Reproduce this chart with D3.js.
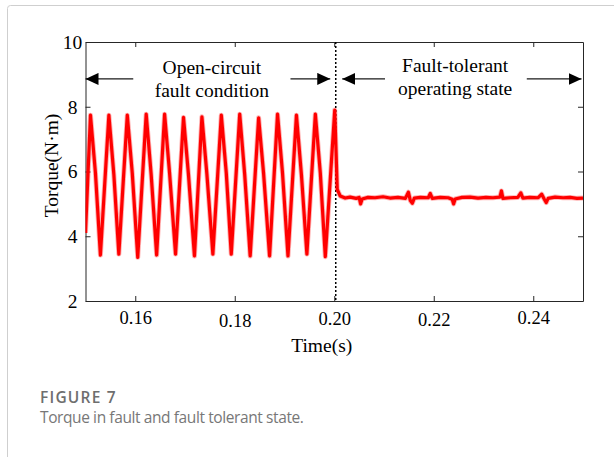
<!DOCTYPE html>
<html>
<head>
<meta charset="utf-8">
<script src="https://cdn.jsdelivr.net/npm/d3@7"></script>
<style>
	body { margin: 0; background: #fff; }
	svg { display: block; }
</style>
</head>
<body>
<div id="chart-area"></div>
<script>
// torque trace: fault period (peak / shoulder / trough per cycle)
// followed by the fault-tolerant period
const TIME = [
	0.1500, 0.1510, 0.1520, 0.1530, 0.1547, 0.1557, 0.1567, 0.1584, 0.1594, 0.1605,
	0.1622, 0.1632, 0.1643, 0.1659, 0.1669, 0.1681, 0.1697, 0.1707, 0.1719, 0.1734,
	0.1744, 0.1756, 0.1773, 0.1783, 0.1793, 0.1810, 0.1820, 0.1831, 0.1848, 0.1858,
	0.1870, 0.1886, 0.1896, 0.1907, 0.1924, 0.1934, 0.1945, 0.1962, 0.1972, 0.1982,
	0.2001, 0.2006, 0.2012,
	0.2022, 0.2032, 0.2044, 0.2050, 0.2053, 0.2056, 0.2068, 0.2082, 0.2098, 0.2112,
	0.2128, 0.2143, 0.2149, 0.2153, 0.2157, 0.2161, 0.2173, 0.2189, 0.2193, 0.2197,
	0.2213, 0.2229, 0.2237, 0.2240, 0.2243, 0.2257, 0.2273, 0.2289, 0.2305, 0.2319,
	0.2333, 0.2336, 0.2339, 0.2353, 0.2369, 0.2375, 0.2379, 0.2393, 0.2410, 0.2417,
	0.2422, 0.2426, 0.2430, 0.2444, 0.2460, 0.2474, 0.2488, 0.2500
]
const TORQUE = [
	4.10, 7.74, 5.95, 3.42, 7.74, 5.90, 3.45, 7.74, 5.95, 3.35,
	7.77, 5.90, 3.42, 7.77, 5.95, 3.45, 7.67, 5.90, 3.39, 7.69,
	5.92, 3.45, 7.74, 5.95, 3.45, 7.77, 5.90, 3.39, 7.66, 5.93,
	3.39, 7.77, 5.95, 3.39, 7.74, 5.90, 3.45, 7.77, 5.95, 3.37,
	7.90, 5.45, 5.24,
	5.18, 5.21, 5.17, 5.20, 5.00, 5.15, 5.20, 5.19, 5.22, 5.18,
	5.20, 5.17, 5.36, 5.10, 5.02, 5.18, 5.20, 5.19, 5.32, 5.17,
	5.20, 5.19, 5.14, 5.00, 5.15, 5.20, 5.21, 5.18, 5.20, 5.19,
	5.21, 5.40, 5.17, 5.19, 5.20, 5.34, 5.18, 5.20, 5.19, 5.30,
	5.15, 5.04, 5.17, 5.21, 5.19, 5.20, 5.17, 5.18
]

const X_TICKS = [0.16, 0.18, 0.20, 0.22, 0.24]
const Y_TICKS = [2, 4, 6, 8, 10]
const FAULT_TIME = 0.2003

const data = TIME.map((t, i) => ({ t: t, v: TORQUE[i] }))

const MARGIN = { LEFT: 85.5, RIGHT: 31, TOP: 42, BOTTOM: 156 }
const W = 614, H = 457
const WIDTH = W - MARGIN.LEFT - MARGIN.RIGHT
const HEIGHT = H - MARGIN.TOP - MARGIN.BOTTOM

const SERIF = "'Liberation Serif', 'Times New Roman', serif"
const AXIS_COLOR = "#262626"

const svg = d3.select("#chart-area").append("svg")
	.attr("width", W)
	.attr("height", H)

// outer frame of the figure card
svg.append("rect")
	.attr("x", 7.5).attr("y", 5.5)
	.attr("width", 640).attr("height", 500)
	.attr("rx", 3)
	.attr("fill", "none")
	.attr("stroke", "#cfcfcf")

const g = svg.append("g")
	.attr("transform", `translate(${MARGIN.LEFT}, ${MARGIN.TOP})`)

// scales
const x = d3.scaleLinear().domain([0.15, 0.25]).range([0, WIDTH])
const y = d3.scaleLinear().domain([2, 10]).range([HEIGHT, 0])

// clip for the trace
g.append("clipPath").attr("id", "clip")
	.append("rect").attr("width", WIDTH).attr("height", HEIGHT)

// axes (MATLAB box with inward ticks)
const xAxis = g.append("g")
	.attr("transform", `translate(0, ${HEIGHT})`)
	.call(d3.axisBottom(x).tickValues(X_TICKS).tickSizeInner(-5).tickSizeOuter(0)
		.tickPadding(11).tickFormat(d3.format(".2f")))
const xTop = g.append("g")
	.call(d3.axisTop(x).tickValues(X_TICKS).tickSizeInner(-5).tickSizeOuter(0).tickFormat(""))
const yAxis = g.append("g")
	.call(d3.axisLeft(y).tickValues(Y_TICKS).tickSizeInner(-5).tickSizeOuter(0))
const yRight = g.append("g")
	.attr("transform", `translate(${WIDTH}, 0)`)
	.call(d3.axisRight(y).tickValues(Y_TICKS).tickSizeInner(-5).tickSizeOuter(0).tickFormat(""))

g.selectAll(".domain, .tick line")
	.attr("stroke", AXIS_COLOR)
	.attr("stroke-width", 1)

g.selectAll(".tick text")
	.attr("fill", "#000")
	.style("font-family", SERIF)
	.style("font-size", "18.5px")

// label offsets as they sit in the original figure
const xLabelShift = { "0.16": -1, "0.18": 2, "0.20": 0, "0.22": 1, "0.24": -1.5 }
xAxis.selectAll(".tick text")
	.attr("y", d => 11 + xLabelShift[d3.format(".2f")(d)])

yAxis.selectAll(".tick text")
	.attr("x", -13)
	.style("font-size", "19.5px")
	.style("text-anchor", "middle")

// fault instant marker
g.append("line")
	.attr("x1", x(FAULT_TIME)).attr("x2", x(FAULT_TIME))
	.attr("y1", 0).attr("y2", HEIGHT)
	.attr("stroke", "#000")
	.attr("stroke-width", 1.5)
	.attr("stroke-dasharray", "2,2")

// torque trace (soft halo + core, like the anti-aliased original)
const line = d3.line()
	.x(d => x(d.t))
	.y(d => y(d.v))

const trace = g.append("g").attr("clip-path", "url(#clip)")
trace.append("path")
	.datum(data)
	.attr("fill", "none")
	.attr("stroke", "#ff0000")
	.attr("stroke-opacity", 0.3)
	.attr("stroke-width", 5)
	.attr("stroke-linejoin", "round")
	.attr("d", line)
trace.append("path")
	.datum(data)
	.attr("fill", "none")
	.attr("stroke", "#ff0000")
	.attr("stroke-width", 3.2)
	.attr("stroke-linejoin", "round")
	.attr("d", line)

// region arrows
svg.append("defs").append("marker")
	.attr("id", "arrow")
	.attr("viewBox", "0 0 13 12")
	.attr("refX", 13).attr("refY", 6)
	.attr("markerWidth", 13).attr("markerHeight", 12)
	.attr("markerUnits", "userSpaceOnUse")
	.attr("orient", "auto")
	.append("path")
	.attr("d", "M0,0L13,6L0,12Z")
	.attr("fill", "#000")

const ARROW_V = 8.86
const arrows = [
	{ from: 0.1596, to: 0.1500 },
	{ from: 0.1912, to: 0.1992 },
	{ from: 0.2102, to: 0.2016 },
	{ from: 0.2387, to: 0.2497 }
]
g.selectAll(".region-arrow")
	.data(arrows)
	.enter().append("line")
	.attr("class", "region-arrow")
	.attr("x1", d => x(d.from)).attr("x2", d => x(d.to))
	.attr("y1", y(ARROW_V)).attr("y2", y(ARROW_V))
	.attr("stroke", "#1a1a1a")
	.attr("stroke-width", 1.3)
	.attr("marker-end", "url(#arrow)")

// region labels
const notes = [
	{ t: 0.1754, v: 9.00, text: "Open-circuit" },
	{ t: 0.1754, v: 8.31, text: "fault condition" },
	{ t: 0.2243, v: 9.06, text: "Fault-tolerant" },
	{ t: 0.2243, v: 8.36, text: "operating state" }
]
g.selectAll(".note")
	.data(notes)
	.enter().append("text")
	.attr("class", "note")
	.attr("x", d => x(d.t))
	.attr("y", d => y(d.v))
	.attr("text-anchor", "middle")
	.style("font-family", SERIF)
	.style("font-size", "19.5px")
	.attr("fill", "#000")
	.text(d => d.text)

// axis titles
g.append("text")
	.attr("x", x(0.2) - 12.5)
	.attr("y", HEIGHT + 50.7)
	.attr("text-anchor", "middle")
	.style("font-family", SERIF)
	.style("font-size", "19.5px")
	.attr("fill", "#000")
	.text("Time(s)")

g.append("text")
	.attr("transform", "rotate(-90)")
	.attr("x", -(y(6) - 6))
	.attr("y", -28)
	.attr("text-anchor", "middle")
	.style("font-family", SERIF)
	.style("font-size", "19.5px")
	.attr("fill", "#000")
	.text("Torque(N·m)")

// caption
svg.append("text")
	.attr("x", 40).attr("y", 403)
	.style("font-family", "'Open Sans', sans-serif")
	.style("font-size", "15.5px")
	.style("font-weight", 600)
	.style("letter-spacing", "1.2px")
	.attr("fill", "#6e6e6e")
	.text("FIGURE 7")

svg.append("text")
	.attr("x", 40).attr("y", 423)
	.style("font-family", "'Open Sans', sans-serif")
	.style("font-size", "15.5px")
	.style("letter-spacing", "-0.4px")
	.attr("fill", "#777")
	.text("Torque in fault and fault tolerant state.")
</script>
</body>
</html>
